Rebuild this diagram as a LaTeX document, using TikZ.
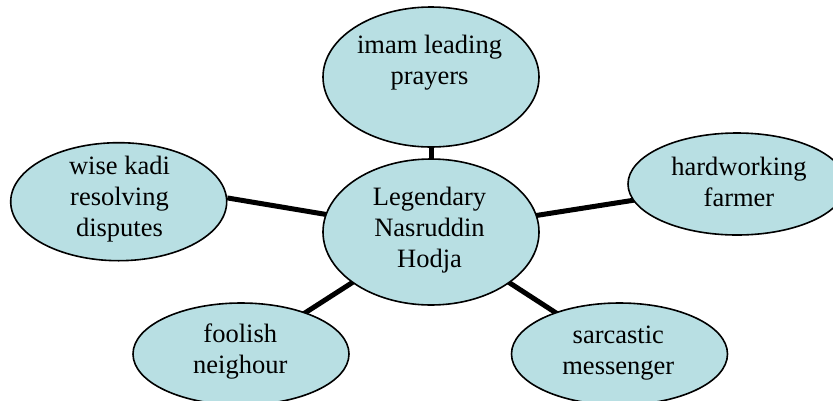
\documentclass[tikz,border=0pt]{standalone}
\usepackage{fontspec}
\setmainfont{Liberation Serif}
\usetikzlibrary{shapes.geometric,backgrounds}
\definecolor{bubble}{RGB}{184,223,227}
\tikzset{
  bub/.style={ellipse, draw=black, line width=1.6pt, fill=bubble, inner sep=0pt, minimum width=216pt},
  lbl/.style={align=center, anchor=base, inner sep=0pt, font=\fontsize{26.5}{31}\selectfont},
  link/.style={line width=5pt, black}
}
\begin{document}
\begin{tikzpicture}[x=1pt,y=-1pt]
\useasboundingbox (0,0) rectangle (833,400);
\node[bub, minimum height=146pt] (c) at (431,232) {};
\node[bub, minimum height=140pt] (t) at (431,77) {};
\node[bub, minimum height=118pt] (l) at (118.7,201.7) {};
\node[bub, minimum width=218pt, minimum height=102pt] (r) at (737,184) {};
\node[bub, minimum height=102pt] (bl) at (241,354) {};
\node[bub, minimum height=102pt] (br) at (619.5,354) {};
\begin{scope}[on background layer]
\draw[link] (c.center) -- (t.center);
\draw[link] (c.center) -- (l.2);
\draw[link] (c.center) -- (r.center);
\draw[link] (c.center) -- (bl.center);
\draw[link] (c.center) -- (br.center);
\end{scope}
\node[lbl] (tc) at (429.5,84.5) {imam leading\\prayers};
\node[lbl] (cc) at (429.5,267.5) {Legendary\\Nasruddin\\Hodja};
\node[lbl] (lc) at (119.5,236.5) {wise kadi\\resolving\\disputes};
\node[lbl] (rc) at (739,206) {hardworking\\farmer};
\node[lbl] (blc) at (240.3,373.5) {foolish\\neighour};
\node[lbl] (brc) at (618.3,374) {sarcastic\\messenger};
\end{tikzpicture}
\end{document}
